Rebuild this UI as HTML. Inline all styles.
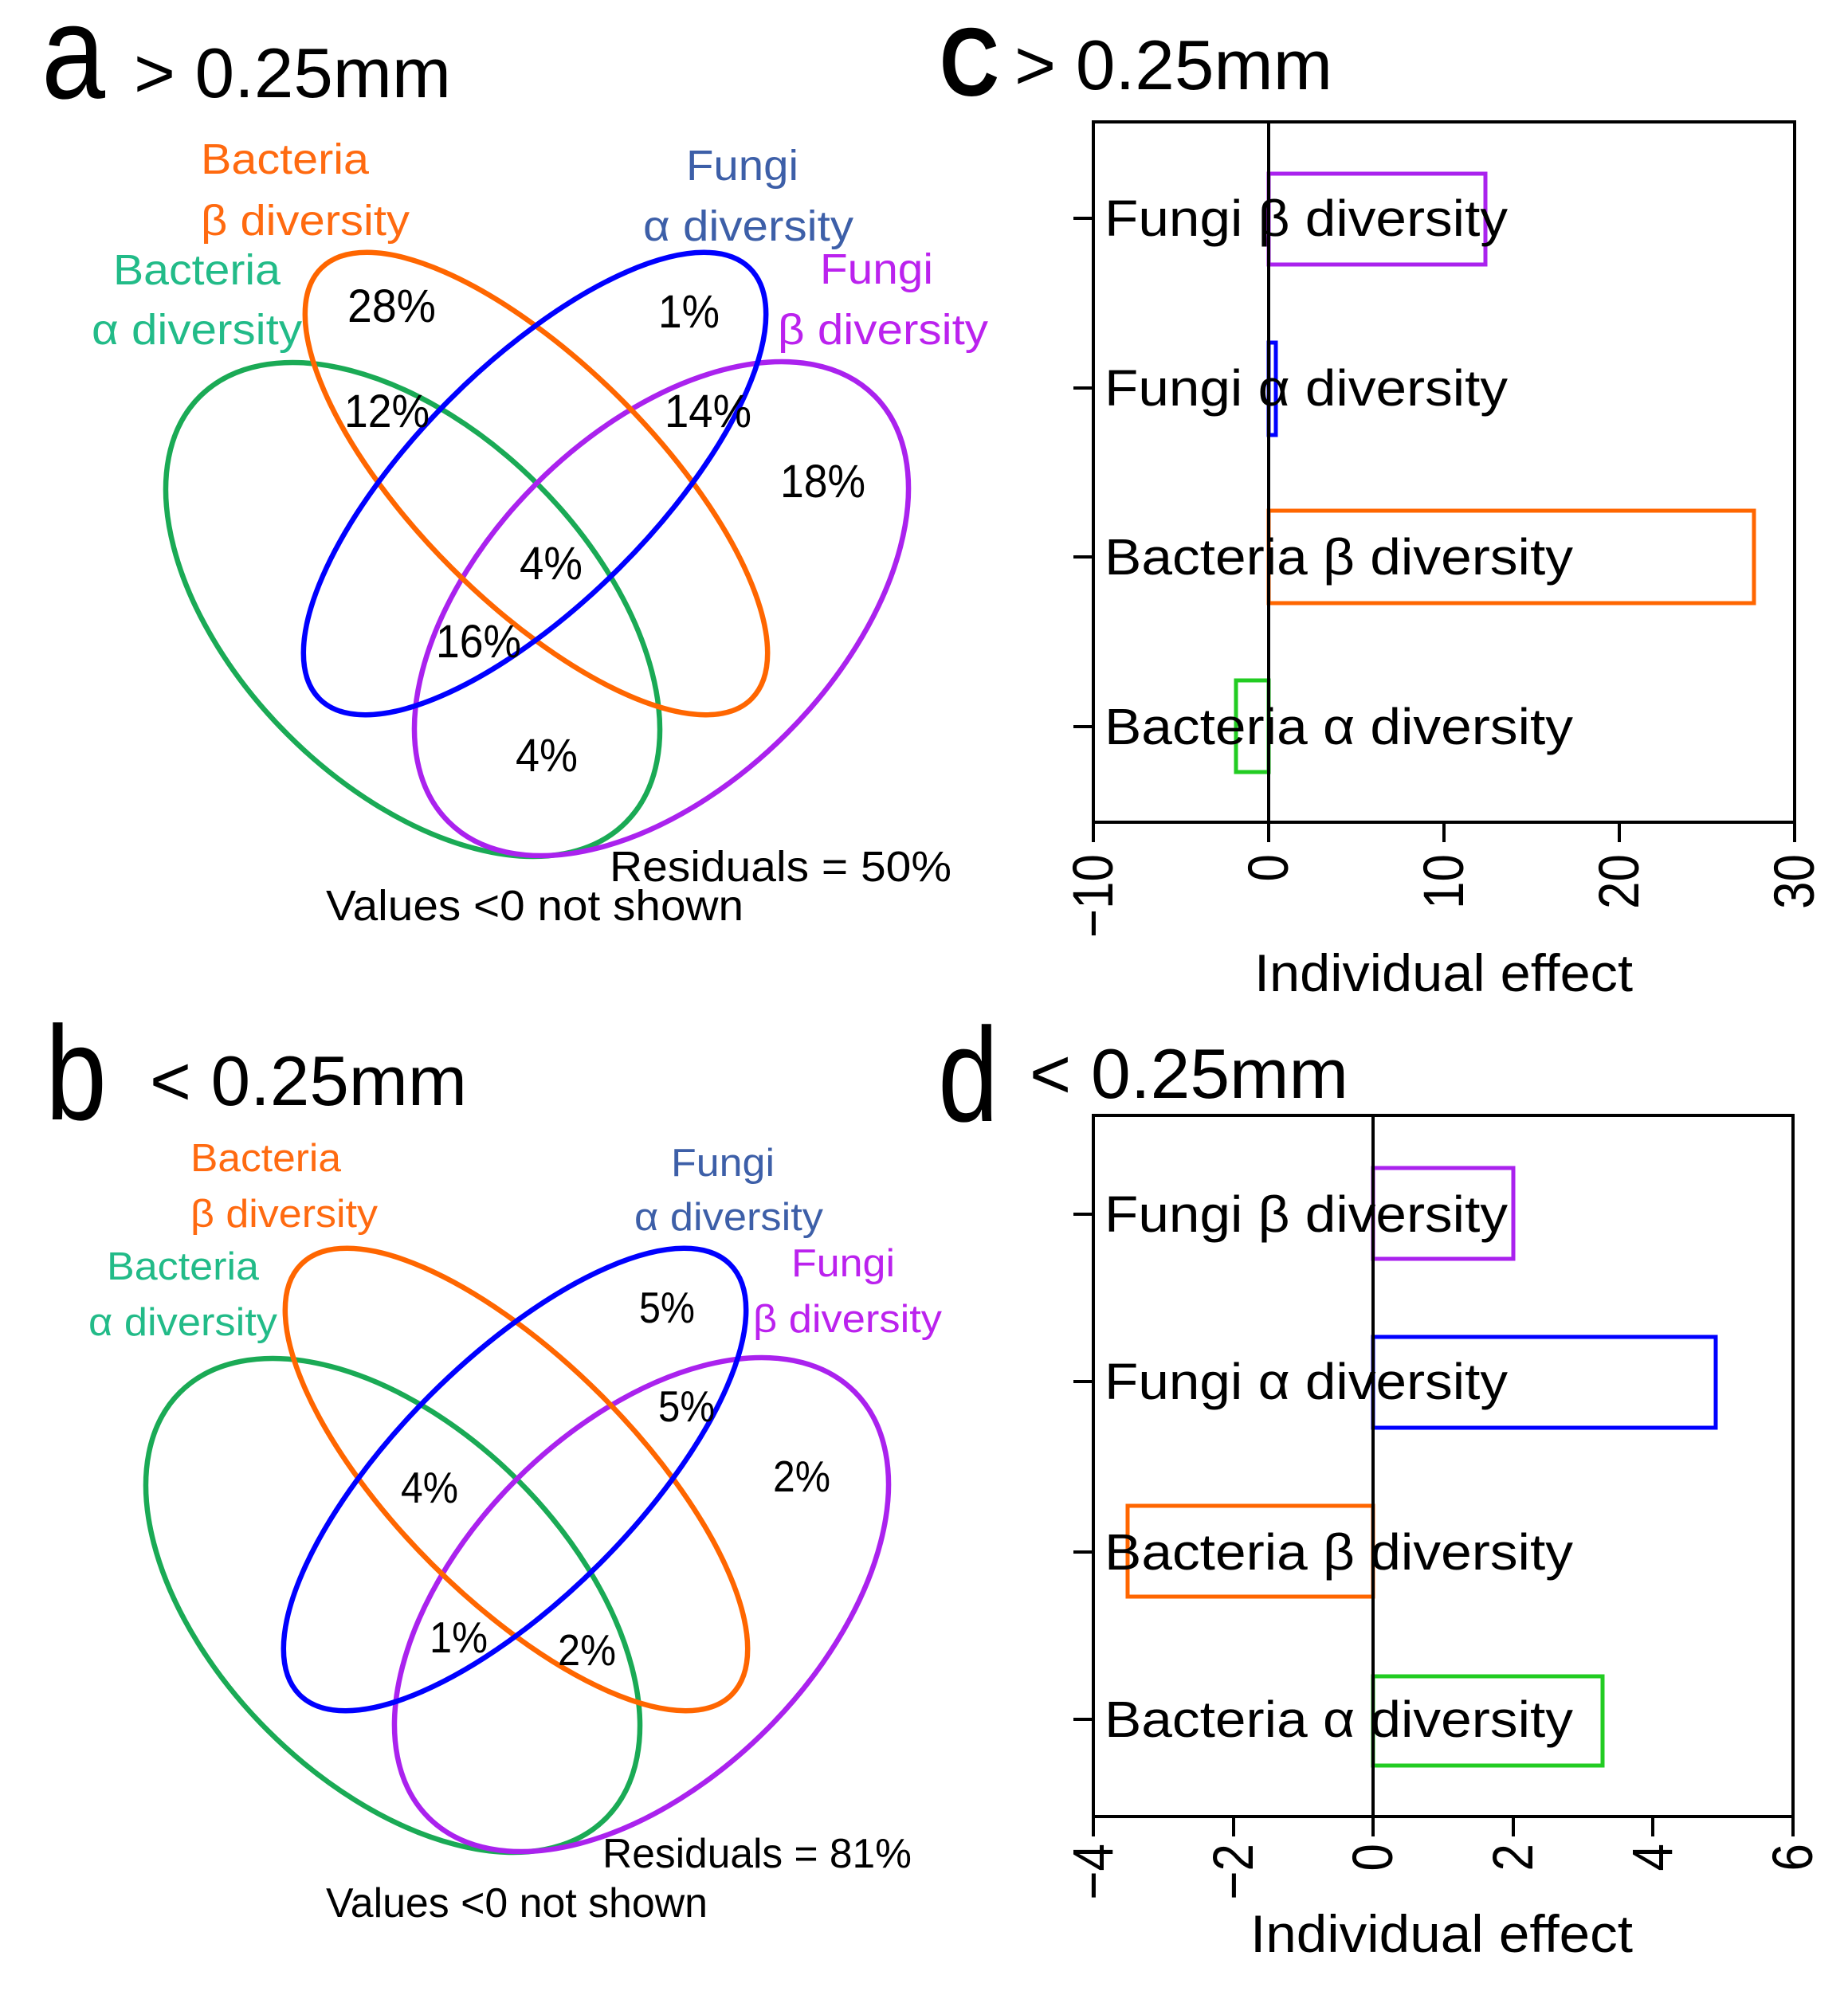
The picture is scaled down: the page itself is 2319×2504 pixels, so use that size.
<!DOCTYPE html>
<html><head><meta charset="utf-8"><style>html,body{margin:0;padding:0;background:#fff}svg{display:block}text{font-family:"Liberation Sans",Arial,sans-serif}</style></head><body>
<svg width="2319" height="2504" viewBox="0 0 2319 2504" xmlns="http://www.w3.org/2000/svg">
<rect width="2319" height="2504" fill="#fff"/>
<!-- Panel a -->
<text x="52" y="123" font-size="168" textLength="80" lengthAdjust="spacingAndGlyphs">a</text>
<text x="168" y="122" font-size="88" textLength="398" lengthAdjust="spacingAndGlyphs">&gt; 0.25mm</text>
<g fill="none" stroke-width="6.5">
<ellipse cx="518" cy="765" rx="378" ry="222" transform="rotate(45 518 765)" stroke="#1aaa55"/>
<ellipse cx="830" cy="764" rx="378" ry="222" transform="rotate(-45 830 764)" stroke="#aa22ee"/>
<ellipse cx="673" cy="607" rx="382" ry="150" transform="rotate(45 673 607)" stroke="#ff6600"/>
<ellipse cx="671" cy="607" rx="382" ry="150" transform="rotate(-45 671 607)" stroke="#0000ff"/>
</g>
<g font-size="54">
<text x="252" y="218" fill="#ff6a10" textLength="211" lengthAdjust="spacingAndGlyphs">Bacteria</text>
<text x="252" y="295" fill="#ff6a10" textLength="262" lengthAdjust="spacingAndGlyphs">β diversity</text>
<text x="861" y="226" fill="#3d5fa8" textLength="141" lengthAdjust="spacingAndGlyphs">Fungi</text>
<text x="807" y="302" fill="#3d5fa8" textLength="264" lengthAdjust="spacingAndGlyphs">α diversity</text>
<text x="142" y="357" fill="#22bb88" textLength="210" lengthAdjust="spacingAndGlyphs">Bacteria</text>
<text x="115" y="432" fill="#22bb88" textLength="264" lengthAdjust="spacingAndGlyphs">α diversity</text>
<text x="1029" y="356" fill="#bb22ee" textLength="142" lengthAdjust="spacingAndGlyphs">Fungi</text>
<text x="976" y="432" fill="#bb22ee" textLength="264" lengthAdjust="spacingAndGlyphs">β diversity</text>
</g>
<g font-size="58" fill="#000">
<text x="436" y="404" textLength="111" lengthAdjust="spacingAndGlyphs">28%</text>
<text x="826" y="411" textLength="77" lengthAdjust="spacingAndGlyphs">1%</text>
<text x="432" y="536" textLength="107" lengthAdjust="spacingAndGlyphs">12%</text>
<text x="834" y="536" textLength="109" lengthAdjust="spacingAndGlyphs">14%</text>
<text x="979" y="624" textLength="107" lengthAdjust="spacingAndGlyphs">18%</text>
<text x="652" y="727" textLength="79" lengthAdjust="spacingAndGlyphs">4%</text>
<text x="547" y="825" textLength="107" lengthAdjust="spacingAndGlyphs">16%</text>
<text x="647" y="968" textLength="78" lengthAdjust="spacingAndGlyphs">4%</text>
</g>
<g font-size="54" fill="#000">
<text x="765" y="1106" textLength="429" lengthAdjust="spacingAndGlyphs">Residuals = 50%</text>
<text x="409" y="1155" textLength="524" lengthAdjust="spacingAndGlyphs">Values &lt;0 not shown</text>
</g>
<!-- Panel b -->
<text x="57" y="1405" font-size="168" textLength="77" lengthAdjust="spacingAndGlyphs">b</text>
<text x="188" y="1387" font-size="88" textLength="398" lengthAdjust="spacingAndGlyphs">&lt; 0.25mm</text>
<g transform="translate(-25,1250)" fill="none" stroke-width="6.5">
<ellipse cx="518" cy="765" rx="378" ry="222" transform="rotate(45 518 765)" stroke="#1aaa55"/>
<ellipse cx="830" cy="764" rx="378" ry="222" transform="rotate(-45 830 764)" stroke="#aa22ee"/>
<ellipse cx="673" cy="607" rx="382" ry="150" transform="rotate(45 673 607)" stroke="#ff6600"/>
<ellipse cx="671" cy="607" rx="382" ry="150" transform="rotate(-45 671 607)" stroke="#0000ff"/>
</g>
<g font-size="49">
<text x="239" y="1470" fill="#ff6a10" textLength="189" lengthAdjust="spacingAndGlyphs">Bacteria</text>
<text x="239" y="1540" fill="#ff6a10" textLength="235" lengthAdjust="spacingAndGlyphs">β diversity</text>
<text x="842" y="1476" fill="#3d5fa8" textLength="130" lengthAdjust="spacingAndGlyphs">Fungi</text>
<text x="796" y="1544" fill="#3d5fa8" textLength="237" lengthAdjust="spacingAndGlyphs">α diversity</text>
<text x="134" y="1606" fill="#22bb88" textLength="191" lengthAdjust="spacingAndGlyphs">Bacteria</text>
<text x="111" y="1676" fill="#22bb88" textLength="237" lengthAdjust="spacingAndGlyphs">α diversity</text>
<text x="993" y="1602" fill="#bb22ee" textLength="130" lengthAdjust="spacingAndGlyphs">Fungi</text>
<text x="945" y="1672" fill="#bb22ee" textLength="237" lengthAdjust="spacingAndGlyphs">β diversity</text>
</g>
<g font-size="55" fill="#000">
<text x="802" y="1660" textLength="70" lengthAdjust="spacingAndGlyphs">5%</text>
<text x="826" y="1784" textLength="71" lengthAdjust="spacingAndGlyphs">5%</text>
<text x="970" y="1872" textLength="72" lengthAdjust="spacingAndGlyphs">2%</text>
<text x="503" y="1886" textLength="72" lengthAdjust="spacingAndGlyphs">4%</text>
<text x="539" y="2074" textLength="73" lengthAdjust="spacingAndGlyphs">1%</text>
<text x="700" y="2090" textLength="73" lengthAdjust="spacingAndGlyphs">2%</text>
</g>
<g font-size="52" fill="#000">
<text x="756" y="2344" textLength="388" lengthAdjust="spacingAndGlyphs">Residuals = 81%</text>
<text x="409" y="2406" textLength="479" lengthAdjust="spacingAndGlyphs">Values &lt;0 not shown</text>
</g>
<!-- Panel c -->
<text x="1179" y="120" font-size="122" font-weight="bold" textLength="75" lengthAdjust="spacingAndGlyphs">C</text>
<text x="1273" y="112" font-size="88" textLength="399" lengthAdjust="spacingAndGlyphs">&gt; 0.25mm</text>
<g fill="none" stroke-width="5">
<rect x="1592" y="218" width="272" height="114" stroke="#aa22ee"/>
<rect x="1592" y="430" width="9" height="116" stroke="#0000ff"/>
<rect x="1592" y="641" width="609" height="116" stroke="#ff6600"/>
<rect x="1551" y="854" width="41" height="115" stroke="#22cc22"/>
</g>
<g font-size="64" fill="#000">
<text x="1386" y="296" textLength="506" lengthAdjust="spacingAndGlyphs">Fungi β diversity</text>
<text x="1386" y="509" textLength="506" lengthAdjust="spacingAndGlyphs">Fungi α diversity</text>
<text x="1386" y="721" textLength="588" lengthAdjust="spacingAndGlyphs">Bacteria β diversity</text>
<text x="1386" y="934" textLength="588" lengthAdjust="spacingAndGlyphs">Bacteria α diversity</text>
</g>
<g stroke="#000" stroke-width="4" fill="none">
<line x1="1592" y1="153" x2="1592" y2="1032"/>
<rect x="1372" y="153" width="880" height="879"/>
<line x1="1347" y1="274" x2="1372" y2="274"/><line x1="1347" y1="487" x2="1372" y2="487"/><line x1="1347" y1="699" x2="1372" y2="699"/><line x1="1347" y1="912" x2="1372" y2="912"/>
<line x1="1372" y1="1032" x2="1372" y2="1057"/><line x1="1592" y1="1032" x2="1592" y2="1057"/><line x1="1812" y1="1032" x2="1812" y2="1057"/><line x1="2032" y1="1032" x2="2032" y2="1057"/><line x1="2252" y1="1032" x2="2252" y2="1057"/>
</g>
<g font-size="62" text-anchor="end">
<text transform="translate(1396,1072) rotate(-90) scale(1,1.15)">−10</text>
<text transform="translate(1616,1072) rotate(-90) scale(1,1.15)">0</text>
<text transform="translate(1836,1072) rotate(-90) scale(1,1.15)">10</text>
<text transform="translate(2056,1072) rotate(-90) scale(1,1.15)">20</text>
<text transform="translate(2276,1072) rotate(-90) scale(1,1.15)">30</text>
</g>
<text x="1574" y="1244" font-size="66" textLength="475" lengthAdjust="spacingAndGlyphs">Individual effect</text>
<!-- Panel d -->
<text x="1177" y="1407" font-size="168" textLength="76" lengthAdjust="spacingAndGlyphs">d</text>
<text x="1292" y="1378" font-size="88" textLength="400" lengthAdjust="spacingAndGlyphs">&lt; 0.25mm</text>
<g fill="none" stroke-width="5">
<rect x="1723" y="1466" width="176" height="114" stroke="#aa22ee"/>
<rect x="1723" y="1678" width="430" height="114" stroke="#0000ff"/>
<rect x="1415" y="1890" width="308" height="114" stroke="#ff6600"/>
<rect x="1723" y="2104" width="288" height="112" stroke="#22cc22"/>
</g>
<g font-size="64" fill="#000">
<text x="1386" y="1546" textLength="506" lengthAdjust="spacingAndGlyphs">Fungi β diversity</text>
<text x="1386" y="1756" textLength="506" lengthAdjust="spacingAndGlyphs">Fungi α diversity</text>
<text x="1386" y="1970" textLength="588" lengthAdjust="spacingAndGlyphs">Bacteria β diversity</text>
<text x="1386" y="2180" textLength="588" lengthAdjust="spacingAndGlyphs">Bacteria α diversity</text>
</g>
<g stroke="#000" stroke-width="4" fill="none">
<line x1="1723" y1="1400" x2="1723" y2="2280"/>
<rect x="1372" y="1400" width="878" height="880"/>
<line x1="1347" y1="1524" x2="1372" y2="1524"/><line x1="1347" y1="1734" x2="1372" y2="1734"/><line x1="1347" y1="1948" x2="1372" y2="1948"/><line x1="1347" y1="2158" x2="1372" y2="2158"/>
<line x1="1372" y1="2280" x2="1372" y2="2305"/><line x1="1548" y1="2280" x2="1548" y2="2305"/><line x1="1723" y1="2280" x2="1723" y2="2305"/><line x1="1899" y1="2280" x2="1899" y2="2305"/><line x1="2074" y1="2280" x2="2074" y2="2305"/><line x1="2250" y1="2280" x2="2250" y2="2305"/>
</g>
<g font-size="62" text-anchor="end">
<text transform="translate(1396,2314) rotate(-90) scale(1,1.15)">−4</text>
<text transform="translate(1572,2314) rotate(-90) scale(1,1.15)">−2</text>
<text transform="translate(1747,2314) rotate(-90) scale(1,1.15)">0</text>
<text transform="translate(1923,2314) rotate(-90) scale(1,1.15)">2</text>
<text transform="translate(2098,2314) rotate(-90) scale(1,1.15)">4</text>
<text transform="translate(2274,2314) rotate(-90) scale(1,1.15)">6</text>
</g>
<text x="1569" y="2450" font-size="66" textLength="480" lengthAdjust="spacingAndGlyphs">Individual effect</text>
</svg>
</body></html>
